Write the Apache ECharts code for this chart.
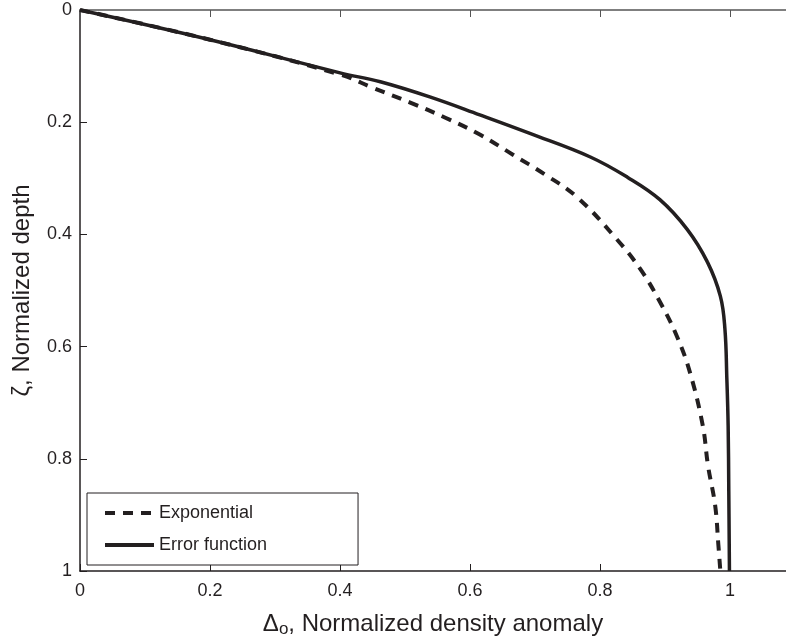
<!DOCTYPE html>
<html>
<head>
<meta charset="utf-8">
<script src="https://cdn.jsdelivr.net/npm/echarts@6/dist/echarts.min.js"></script>
<style>html,body{margin:0;padding:0;background:#fff}#c{width:786px;height:643px}</style>
</head>
<body>
<div id="c"></div>
<script>
// Δo (x) and ζ (y)
var expDelta = [0, 0.2, 0.4, 0.451, 0.508, 0.562, 0.615, 0.666, 0.715, 0.765, 0.826, 0.862, 0.892, 0.918, 0.938, 0.958, 0.966, 0.977, 0.982, 0.985];
var expZeta  = [0, 0.053, 0.115, 0.139, 0.165, 0.192, 0.222, 0.258, 0.293, 0.334, 0.409, 0.462, 0.520, 0.581, 0.645, 0.741, 0.812, 0.883, 0.954, 1.0];
var erfDelta = [0, 0.2, 0.4, 0.462, 0.538, 0.615, 0.692, 0.785, 0.842, 0.892, 0.934, 0.965, 0.985, 0.992, 0.995, 0.997, 0.998, 0.999];
var erfZeta  = [0, 0.053, 0.112, 0.128, 0.155, 0.187, 0.220, 0.262, 0.298, 0.338, 0.391, 0.449, 0.510, 0.568, 0.657, 0.741, 0.858, 1.0];
var seriesNames = ['Exponential', 'Error function'];
var xTicks = [0, 0.2, 0.4, 0.6, 0.8, 1];
var yTicks = [0, 0.2, 0.4, 0.6, 0.8, 1];

function pairs(xs, ys) { return xs.map(function (x, i) { return [x, ys[i]]; }); }
var ink = '#231f20';
var font = 'Liberation Sans, Arial, Helvetica, sans-serif';

var chart = echarts.init(document.getElementById('c'), null, {renderer: 'canvas'});
chart.setOption({
  animation: false,
  backgroundColor: '#fff',
  textStyle: {fontFamily: font, color: ink},
  grid: {left: 80, top: 10, right: 0, bottom: 70, containLabel: false},
  legend: {
    orient: 'vertical',
    left: 87, top: 493,
    itemWidth: 49, itemHeight: 14, itemGap: 14, itemTextGap: 13,
    padding: [11, 91, 11, 16],
    borderColor: ink, borderWidth: 1, backgroundColor: '#fff',
    itemStyle: {color: 'transparent', borderColor: 'transparent', borderWidth: 0, opacity: 0},
    lineStyle: {width: 4},
    textStyle: {fontSize: 18, fontFamily: font, color: ink},
    data: seriesNames
  },
  xAxis: [{
    type: 'value', position: 'bottom', min: 0, max: 1.086, interval: 0.2,
    name: '{a|Δ}{sub|o}{a|, Normalized density anomaly}',
    nameLocation: 'middle', nameGap: 40,
    nameTextStyle: {fontSize: 24, fontFamily: font, color: ink,
      rich: {
        a: {fontSize: 24, fontFamily: font, color: ink},
        sub: {fontSize: 17, fontFamily: font, color: ink, padding: [10, 0, 0, 0]}
      }},
    axisLine: {show: true, onZero: false, lineStyle: {color: ink, width: 1.5}},
    axisTick: {show: true, inside: true, length: 7, lineStyle: {color: ink, width: 1}},
    axisLabel: {fontSize: 18, color: ink, margin: 11, showMaxLabel: false,
      formatter: function (v) { var r = Math.round(v * 10) / 10; return (xTicks.indexOf(r) >= 0 && Math.abs(v - r) < 1e-6) ? String(r) : ''; }},
    splitLine: {show: false}
  }, {
    type: 'value', position: 'top', min: 0, max: 1.086, interval: 0.2,
    axisLine: {show: true, onZero: false, lineStyle: {color: '#555', width: 1.5}},
    axisTick: {show: true, inside: true, length: 7, lineStyle: {color: '#555', width: 1}},
    axisLabel: {show: false},
    splitLine: {show: false}
  }],
  yAxis: {
    type: 'value', inverse: true, min: 0, max: 1, interval: 0.2,
    name: 'ζ, Normalized depth',
    nameLocation: 'middle', nameGap: 46, nameRotate: 90,
    nameTextStyle: {fontSize: 24, fontFamily: font, color: ink},
    axisLine: {show: true, onZero: false, lineStyle: {color: ink, width: 1.5}},
    axisTick: {show: true, inside: true, length: 7, lineStyle: {color: ink, width: 1}},
    axisLabel: {fontSize: 18, color: ink, margin: 8,
      formatter: function (v) { return yTicks.indexOf(v) >= 0 ? String(v) : ''; }},
    splitLine: {show: false}
  },
  series: [{
    name: seriesNames[0], type: 'line', xAxisIndex: 0,
    data: pairs(expDelta, expZeta),
    showSymbol: false, symbol: 'none',
    smooth: 0.4,
    lineStyle: {color: ink, width: 4, type: [10, 8]},
    itemStyle: {color: ink}
  }, {
    name: seriesNames[1], type: 'line', xAxisIndex: 0,
    data: pairs(erfDelta, erfZeta),
    showSymbol: false, symbol: 'none',
    smooth: 0.4,
    lineStyle: {color: ink, width: 3.5, type: 'solid'},
    itemStyle: {color: ink}
  }]
});
</script>
</body>
</html>
